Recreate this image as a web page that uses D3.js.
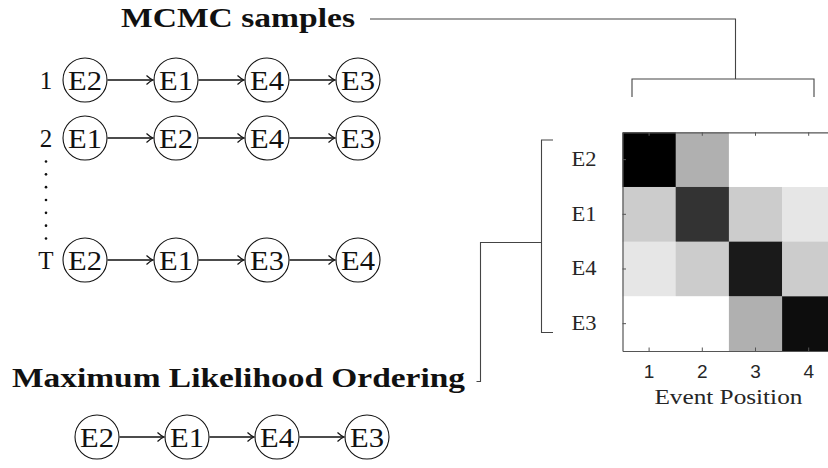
<!DOCTYPE html>
<html>
<head>
<meta charset="utf-8">
<script src="https://cdn.jsdelivr.net/npm/d3@7"></script>
<style>
  html, body { margin: 0; padding: 0; background: #fff; }
  svg { display: block; }
</style>
</head>
<body>
<svg id="chart" width="828" height="468"></svg>
<script>
// ---------- data ----------
const heatRows = ["E2", "E1", "E4", "E3"];
const heatPositions = [1, 2, 3, 4];
const rowE2 = [1.00, 0.31, 0.00, 0.00];
const rowE1 = [0.20, 0.80, 0.20, 0.10];
const rowE4 = [0.10, 0.20, 0.90, 0.20];
const rowE3 = [0.00, 0.00, 0.31, 0.95];
const sampleLabels = ["1", "2", "T"];
const sample1 = ["E2", "E1", "E4", "E3"];
const sample2 = ["E1", "E2", "E4", "E3"];
const sampleT = ["E2", "E1", "E3", "E4"];
const mlOrder = ["E2", "E1", "E4", "E3"];
const titleTop = "MCMC samples";
const titleBottom = "Maximum Likelihood Ordering";
const xAxisTitle = "Event Position";

const heatValues = [rowE2, rowE1, rowE4, rowE3];
const samples = [sample1, sample2, sampleT];

// ---------- drawing ----------
const svg = d3.select("#chart");
const serif = "Liberation Serif, DejaVu Serif, serif";
const sans = "Liberation Sans, Arial, sans-serif";
const ink = "#111";
const lineGray = "#444";

// titles
svg.append("text").attr("x", 121).attr("y", 27)
  .style("font-family", serif).attr("font-weight", "bold").attr("font-size", 27)
  .attr("textLength", 234).attr("lengthAdjust", "spacingAndGlyphs")
  .attr("fill", ink).text(titleTop);
svg.append("text").attr("x", 12).attr("y", 387)
  .style("font-family", serif).attr("font-weight", "bold").attr("font-size", 27)
  .attr("textLength", 453).attr("lengthAdjust", "spacingAndGlyphs")
  .attr("fill", ink).text(titleBottom);

// chain drawing helper
const R = 22;
function drawChain(g, order, x0, step, cy) {
  const xs = d3.scaleLinear().domain([0, 1]).range([x0, x0 + step]);
  order.forEach((ev, i) => {
    const cx = xs(i);
    g.append("circle").attr("cx", cx).attr("cy", cy).attr("r", R)
      .attr("fill", "none").attr("stroke", ink).attr("stroke-width", 1.1);
    g.append("text").attr("x", cx).attr("y", cy + 9.5)
      .attr("text-anchor", "middle").style("font-family", serif).attr("font-size", 27)
      .attr("textLength", 34).attr("lengthAdjust", "spacingAndGlyphs")
      .attr("fill", ink).text(ev);
    if (i < order.length - 1) {
      const a = cx + R + 0.5, b = xs(i + 1) - R - 1;
      g.append("line").attr("x1", a).attr("x2", b - 0.5).attr("y1", cy).attr("y2", cy)
        .attr("stroke", ink).attr("stroke-width", 1.3);
      g.append("path")
        .attr("d", `M${b - 6.5},${cy - 4.5} Q${b - 2.5},${cy - 0.8} ${b},${cy} Q${b - 2.5},${cy + 0.8} ${b - 6.5},${cy + 4.5}`)
        .attr("fill", "none").attr("stroke", ink).attr("stroke-width", 1.2);
    }
  });
}

const rowY = [80, 138, 260];
const chains = svg.append("g");
samples.forEach((order, k) => {
  chains.append("text").attr("x", 46).attr("y", rowY[k] + 9)
    .attr("text-anchor", "middle").style("font-family", serif).attr("font-size", 25)
    .attr("fill", ink).text(sampleLabels[k]);
  drawChain(chains, order, 85, 91, rowY[k]);
});
// vertical dots between 2 and T
const dotY = d3.scaleLinear().domain([0, 6]).range([161.5, 238.5]);
d3.range(7).forEach(i => {
  chains.append("circle").attr("cx", 46).attr("cy", dotY(i)).attr("r", 1.3).attr("fill", ink);
});
drawChain(chains, mlOrder, 97, 90, 437);

// ---------- heatmap ----------
const x = d3.scaleBand().domain(heatPositions).range([622.5, 835.3]);
const y = d3.scaleBand().domain(heatRows).range([132.3, 351]);
const color = v => d3.interpolateRgb("#ffffff", "#000000")(v);

const hm = svg.append("g");
heatRows.forEach((ev, r) => {
  heatPositions.forEach((p, c) => {
    hm.append("rect").attr("x", x(p)).attr("y", y(ev))
      .attr("width", x.bandwidth() + 0.3).attr("height", y.bandwidth() + 0.3)
      .attr("fill", color(heatValues[r][c]));
  });
});

const axColor = "#555";
const xAxisB = hm.append("g").attr("transform", "translate(0,351)")
  .call(d3.axisBottom(x).tickSizeInner(-3.5).tickSizeOuter(0).tickPadding(14));
const xAxisT = hm.append("g").attr("transform", "translate(0,132.3)")
  .call(d3.axisTop(x).tickSizeInner(-3.5).tickSizeOuter(0).tickFormat(""));
const yAxisL = hm.append("g").attr("transform", "translate(622.5,0)")
  .call(d3.axisLeft(y).tickSizeInner(-3.5).tickSizeOuter(0).tickPadding(26));
[xAxisB, xAxisT, yAxisL].forEach(g => {
  g.selectAll("path.domain").attr("stroke", axColor).attr("stroke-width", 1.2);
  g.selectAll(".tick line").attr("stroke", axColor).attr("stroke-width", 1);
});
xAxisB.selectAll(".tick text").style("font-family", sans).style("font-size", "19px").attr("fill", "#262626");
yAxisL.selectAll(".tick text").style("font-family", serif).style("font-size", "20px").attr("fill", "#262626")
  .attr("textLength", 25).attr("lengthAdjust", "spacingAndGlyphs");

hm.append("text").attr("x", (x.range()[0] + x.range()[1]) / 2 - 0.5).attr("y", 404)
  .attr("text-anchor", "middle").style("font-family", serif).attr("font-size", 21)
  .attr("textLength", 148).attr("lengthAdjust", "spacingAndGlyphs")
  .attr("fill", "#262626").text(xAxisTitle);

// ---------- connector brackets ----------
const br = svg.append("g").attr("fill", "none").attr("stroke", lineGray).attr("stroke-width", 1.1);
br.append("path").attr("d", "M370,19 H735.5 V79");
br.append("path").attr("d", "M632,97 V79 H814 V97");
br.append("path").attr("d", "M553,140 H541.5 V332.5 H553");
br.append("path").attr("d", "M541.5,242.5 H480.5 V381.5 H476.5");
</script>
</body>
</html>
